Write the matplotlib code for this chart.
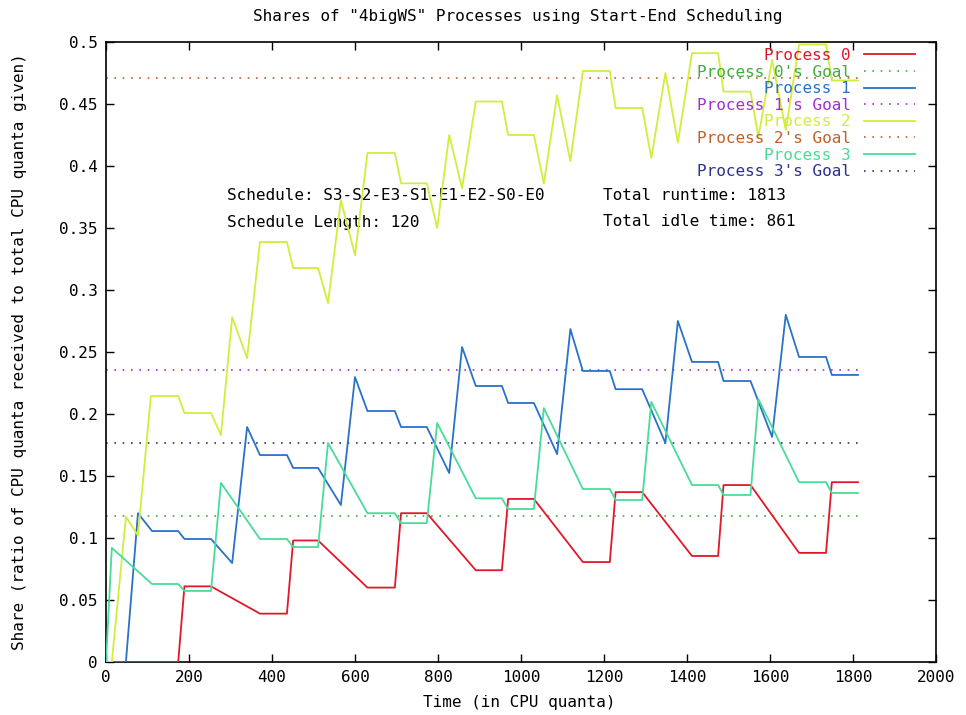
import matplotlib
matplotlib.use("Agg")
import matplotlib.pyplot as plt
from matplotlib.ticker import MultipleLocator, FuncFormatter

plt.rcParams['font.family'] = ['DejaVu Sans Mono', 'DejaVu Sans']

# ---- data ----
labels = ["Process 0", "Process 1", "Process 2", "Process 3"]
goal_labels = ["Process 0's Goal", "Process 1's Goal", "Process 2's Goal", "Process 3's Goal"]

x0 = [0, 174, 189, 253, 371, 436, 451, 511, 630, 696, 711, 773, 891, 954, 969, 1031, 1149,
      1214, 1228, 1292, 1412, 1475, 1488, 1553, 1670, 1735, 1749, 1812]
y0 = [0, 0, 0.061, 0.061, 0.039, 0.039, 0.098, 0.098, 0.060, 0.060, 0.120, 0.120, 0.074, 0.074,
      0.1315, 0.1315, 0.0806, 0.0806, 0.137, 0.137, 0.0855, 0.0855, 0.1427, 0.1427, 0.088, 0.088,
      0.145, 0.145]

x1 = [0, 48, 77, 111, 174, 189, 253, 304, 340, 371, 436, 451, 511, 566, 600, 630, 696, 711, 773,
      827, 858, 891, 954, 969, 1031, 1087, 1119, 1149, 1214, 1228, 1292, 1348, 1378, 1412, 1475,
      1488, 1553, 1605, 1638, 1670, 1735, 1749, 1812]
y1 = [0, 0, 0.120, 0.1056, 0.1056, 0.0992, 0.0992, 0.0798, 0.1895, 0.1669, 0.1669, 0.1565, 0.1565,
      0.1266, 0.2298, 0.2024, 0.2024, 0.1895, 0.1895, 0.1524, 0.254, 0.2226, 0.2226, 0.2089, 0.2089,
      0.1677, 0.2685, 0.2347, 0.2347, 0.220, 0.220, 0.1766, 0.275, 0.242, 0.242, 0.2266, 0.2266,
      0.1815, 0.280, 0.246, 0.246, 0.2315, 0.2315]

x2 = [0, 14, 48, 77, 108, 174, 189, 253, 277, 304, 340, 371, 436, 451, 511, 535, 566, 600, 630,
      696, 711, 773, 798, 827, 858, 891, 954, 969, 1031, 1055, 1087, 1119, 1149, 1214, 1228, 1292,
      1314, 1348, 1378, 1412, 1475, 1488, 1553, 1572, 1605, 1638, 1670, 1735, 1749, 1812]
y2 = [0, 0, 0.117, 0.102, 0.2145, 0.2145, 0.2008, 0.2008, 0.183, 0.278, 0.245, 0.3387, 0.3387,
      0.3177, 0.3177, 0.2895, 0.3726, 0.328, 0.4105, 0.4105, 0.386, 0.386, 0.35, 0.425, 0.382,
      0.452, 0.452, 0.425, 0.425, 0.386, 0.457, 0.404, 0.4766, 0.4766, 0.4468, 0.4468, 0.4065,
      0.475, 0.419, 0.491, 0.491, 0.46, 0.46, 0.4234, 0.4855, 0.429, 0.498, 0.498, 0.469, 0.469]

x3 = [0, 14, 111, 174, 189, 253, 277, 371, 436, 451, 511, 535, 630, 696, 711, 773, 798, 891, 954,
      969, 1031, 1055, 1149, 1214, 1228, 1292, 1314, 1412, 1475, 1488, 1553, 1572, 1670, 1735,
      1749, 1812]
y3 = [0, 0.092, 0.0629, 0.0629, 0.0573, 0.0573, 0.1444, 0.0992, 0.0992, 0.0927, 0.0927, 0.1766,
      0.120, 0.120, 0.112, 0.112, 0.1927, 0.132, 0.132, 0.1234, 0.1234, 0.2048, 0.1395, 0.1395,
      0.1306, 0.1306, 0.2097, 0.1427, 0.1427, 0.1347, 0.1347, 0.212, 0.145, 0.145, 0.1363, 0.1363]

goals = [0.1176, 0.2353, 0.4706, 0.1765]
total_runtime = 1813

line_colors = ['#e0182a', '#2a72c8', '#d4ec3c', '#48dc98']
goal_colors = ['#3fae3a', '#a032d2', '#c0602a', '#2e3190']

title = 'Shares of "4bigWS" Processes using Start-End Scheduling'
xlabel = 'Time (in CPU quanta)'
ylabel = 'Share (ratio of CPU quanta received to total CPU quanta given)'
info_left = ['Schedule: S3-S2-E3-S1-E1-E2-S0-E0', 'Schedule Length: 120']
info_right = ['Total runtime: 1813', 'Total idle time: 861']

# ---- figure ----
fig = plt.figure(figsize=(9.66, 7.15), dpi=100)
ax = fig.add_axes([106/966, 1-662/715, 830/966, 620/715])

xs = [x0, x1, x2, x3]
ys = [y0, y1, y2, y3]
FS = 11.5
for i in range(4):
    ax.plot(xs[i], ys[i], color=line_colors[i], lw=1.3, label=labels[i], zorder=3+i)
    ax.plot([0, total_runtime], [goals[i], goals[i]], color=goal_colors[i], lw=1.2,
            linestyle=(0, (1, 4)), label=goal_labels[i], zorder=2)

ax.set_xlim(0, 2000)
ax.set_ylim(0, 0.5)
ax.xaxis.set_major_locator(MultipleLocator(200))
ax.yaxis.set_major_locator(MultipleLocator(0.05))
ax.yaxis.set_major_formatter(FuncFormatter(lambda v, p: '%g' % round(v, 4)))
ax.tick_params(direction='in', length=6, width=1, top=True, right=True,
               labelsize=FS, pad=6, colors='black')
for s in ax.spines.values():
    s.set_linewidth(1.2)

leg = ax.legend(loc='upper right', bbox_to_anchor=(1 - 21/830, 1 - 6/620),
                frameon=False, markerfirst=False, fontsize=FS, handlelength=3.2,
                handletextpad=0.8, labelspacing=0.1, borderpad=0, borderaxespad=0,
                labelcolor='linecolor')

ax.text((227-106)/830, (662-195)/620, info_left[0], transform=ax.transAxes,
        fontsize=FS, va='center', ha='left')
ax.text((227-106)/830, (662-222)/620, info_left[1], transform=ax.transAxes,
        fontsize=FS, va='center', ha='left')
ax.text((603-106)/830, (662-195)/620, info_right[0], transform=ax.transAxes,
        fontsize=FS, va='center', ha='left')
ax.text((603-106)/830, (662-222)/620, info_right[1], transform=ax.transAxes,
        fontsize=FS, va='center', ha='left')

fig.text(518/966, 1-17/715, title, fontsize=FS, ha='center', va='center')
fig.text(519/966, 1-703/715, xlabel, fontsize=FS, ha='center', va='center')
fig.text(20/966, 1-352/715, ylabel, fontsize=FS, ha='center', va='center', rotation=90)

fig.savefig('out.png', dpi=100)
